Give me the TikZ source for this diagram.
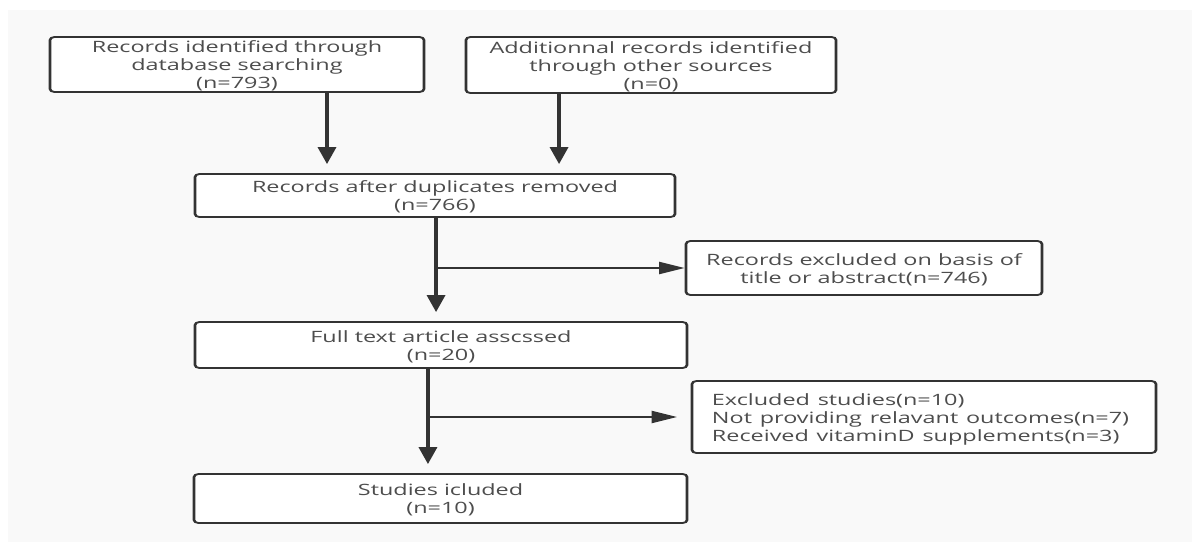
\documentclass[tikz,border=0pt]{standalone}
\usepackage{fontspec}
\setmainfont{Open Sans}
\usetikzlibrary{arrows.meta}
\definecolor{bg}{HTML}{F9F9F9}
\definecolor{ln}{HTML}{333333}
\definecolor{tx}{HTML}{4D4D4D}
\newcommand{\btxt}[2][c]{\raisebox{-2.5pt}[\height][\depth]{\begin{tabular}{@{}#1@{}}#2\end{tabular}}}
\begin{document}
\begin{tikzpicture}[x=1pt,y=-1pt,
  box/.style={draw=ln, line width=1.8pt, fill=white, rounded corners=3pt, align=center, text=tx, font=\fontsize{15.6}{18}\selectfont, inner sep=0pt},
  arr/.style={draw=ln, line width=2.2pt, -{Triangle[length=17pt,width=12pt]}}]
\useasboundingbox (0,0) rectangle (1192,542);
\fill[white] (0,0) rectangle (1192,542);
\fill[bg] (8,10) rectangle (1192,542);
\begin{scope}[transform canvas={xscale=1.5}]
\node[box, minimum width=249.3pt, minimum height=55pt] (b1) at (158,64.5) {\btxt{Records identified through\\database searching\\(n=793)}};
\node[box, minimum width=246.7pt, minimum height=56pt] (b2) at (434,65) {\btxt{Additionnal records identified\\through other sources\\(n=0)}};
\node[box, minimum width=320pt, minimum height=43pt] (b3) at (290,195.5) {\btxt{Records after duplicates removed\\(n=766)}};
\node[box, minimum width=237.3pt, minimum height=54pt] (b4) at (576,268) {\btxt{Records excluded on basis of\\title or abstract(n=746)}};
\node[box, minimum width=328pt, minimum height=46pt] (b5) at (294,345) {\btxt{Full text article asscssed\\(n=20)}};
\node[box, minimum height=72pt, text width=282.7pt, inner xsep=13.3pt, align=left] (ex) at (616,417) {\btxt[l]{Excluded studies(n=10)\\Not providing relavant outcomes(n=7)\\Received vitaminD supplements(n=3)}};
\node[box, minimum width=328.7pt, minimum height=49pt] (b6) at (293.7,498.5) {\btxt{Studies icluded\\(n=10)}};
\coordinate (x1) at (218,0);
\coordinate (x2) at (372.7,0);
\coordinate (j1) at (290.7,268);
\coordinate (j2) at (285.3,417);
\draw[arr, shorten >=9pt] (b1.south -| x1) -- (b3.north -| x1);
\draw[arr, shorten >=9pt] (b2.south -| x2) -- (b3.north -| x2);
\draw[arr, shorten >=9pt] (b3.south -| j1) -- (b5.north -| j1);
\draw[arr] (j1) -- (b4.west);
\draw[arr, shorten >=9pt] (b5.south -| j2) -- (b6.north -| j2);
\draw[arr, shorten >=9pt] (j2) -- (ex.west);
\end{scope}
\end{tikzpicture}
\end{document}
